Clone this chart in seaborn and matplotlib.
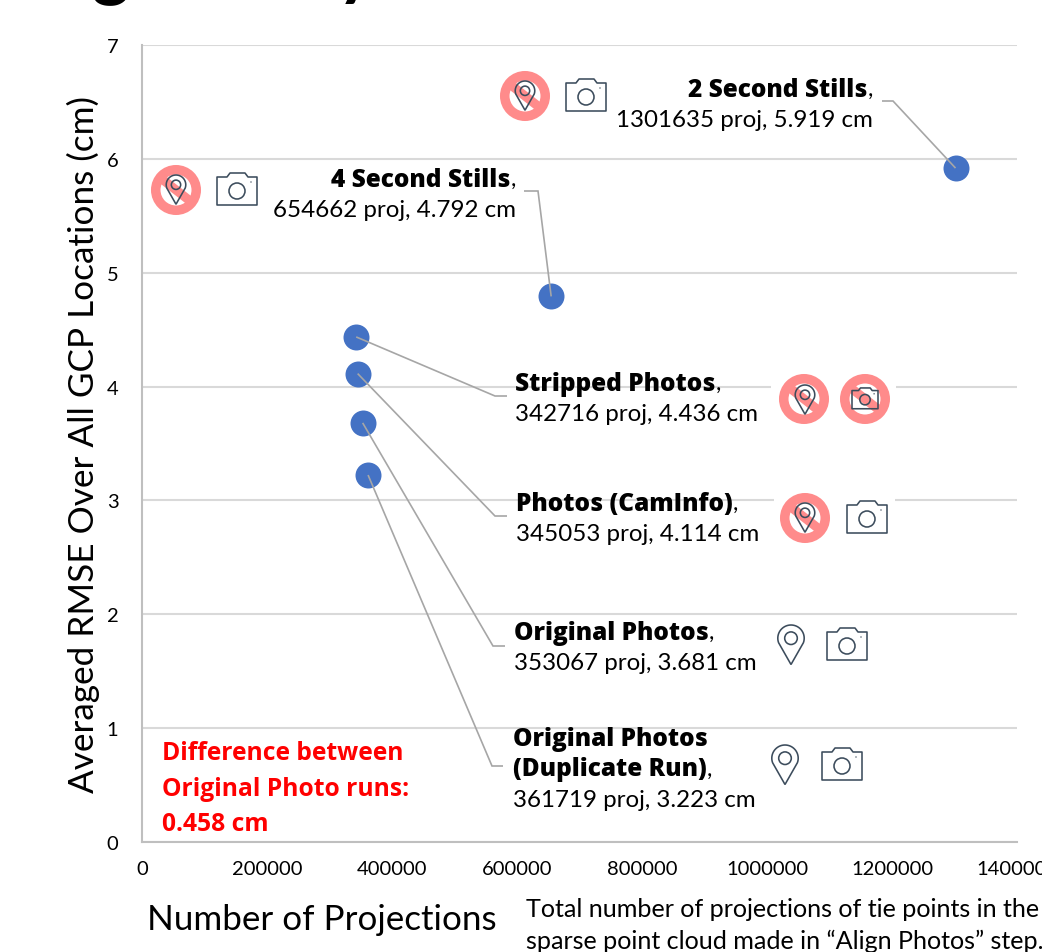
import numpy as np
import pandas as pd
import matplotlib
matplotlib.use("Agg")
import matplotlib.pyplot as plt
from matplotlib.path import Path
from matplotlib.patches import Circle, PathPatch, Polygon, Rectangle
from matplotlib.ticker import StrMethodFormatter
from matplotlib.transforms import Affine2D
import seaborn as sns

# Alignment runs: projections against averaged RMSE
run_names = ["2 Second Stills", "4 Second Stills", "Stripped Photos", "Photos (CamInfo)",
             "Original Photos", "Original Photos\n(Duplicate Run)"]
projections = [1301635, 654662, 342716, 345053, 353067, 361719]
rmse_cm = [5.919, 4.792, 4.436, 4.114, 3.681, 3.223]
x_ticks = [0, 200000, 400000, 600000, 800000, 1000000, 1200000, 1400000]
y_ticks = [0, 1, 2, 3, 4, 5, 6, 7]

W, H = 1042, 953
BLUE = "#4472C4"
GRID = "#D9D9D9"
SPINE = "#BFBFBF"
LEADER = "#A6A6A6"
NO_RED = "#FF8B8B"
ICON = "#3C4C5C"
TEXT = "#000000"

sns.set_theme(style="whitegrid")
plt.rcParams["font.family"] = ["Lato", "DejaVu Sans"]

fig = plt.figure(figsize=(W / 100, H / 100), dpi=100, facecolor="white")
ax = fig.add_axes([142 / W, (H - 843) / H, (1017 - 142) / W, (843 - 46) / H])

data = pd.DataFrame({"run": run_names, "projections": projections, "rmse": rmse_cm})
sns.scatterplot(data=data, x="projections", y="rmse", color=BLUE, s=350, linewidth=0,
                ax=ax, clip_on=False, zorder=3)

ax.set_xlim(0, 1400000)
ax.set_ylim(0, 7)
ax.set_xticks(x_ticks)
ax.set_yticks(y_ticks)
ax.xaxis.set_major_formatter(StrMethodFormatter("{x:.0f}"))
ax.set_xlabel("")
ax.set_ylabel("")
ax.grid(axis="y", color=GRID, linewidth=1.5)
ax.grid(axis="x", visible=False)
ax.set_axisbelow(True)
for side in ("top", "right"):
    ax.spines[side].set_visible(False)
for side in ("left", "bottom"):
    ax.spines[side].set_visible(True)
    ax.spines[side].set_color(SPINE)
    ax.spines[side].set_linewidth(1.5)
ax.tick_params(axis="x", length=0, pad=13, labelsize=14.5, labelcolor=TEXT)
ax.tick_params(axis="y", length=0, pad=17, labelsize=14.5, labelcolor=TEXT)

# Annotation layer is laid out in canvas pixels measured from the top left
px = Affine2D().scale(1, -1).translate(0, H)


def add(artist, z=6):
    artist.set_transform(px)
    artist.set_zorder(z)
    fig.add_artist(artist)


def pin(cx, top, k=1.0):
    r, tip = 13.2 * k, 39.5 * k
    cy = top + r
    t = np.radians(np.linspace(200, -20, 40))
    xs = cx + r * np.cos(t)
    ys = cy - r * np.sin(t)
    pts = np.column_stack([np.r_[xs, cx], np.r_[ys, top + tip]])
    add(Polygon(pts, closed=True, fill=False, ec=ICON, lw=1.15, joinstyle="miter"), 8)
    add(Circle((cx, cy), 6.3 * k, fill=False, ec=ICON, lw=1.15), 8)


def camera(cx, cy, k=1.0):
    w, h = 40 * k, 28 * k
    left, right, top, bot = cx - w / 2, cx + w / 2, cy - h / 2 + k, cy + h / 2 + k
    outline = [(left, top), (cx - 10 * k, top), (cx - 7 * k, top - 4 * k), (cx + 8 * k, top - 4 * k),
               (cx + 11 * k, top), (right, top), (right, bot), (left, bot)]
    add(Polygon(outline, closed=True, fill=False, ec=ICON, lw=1.15, joinstyle="round"), 8)
    add(Circle((cx, cy + k), 8 * k, fill=False, ec=ICON, lw=1.15), 8)
    add(Circle((cx + 14 * k, cy - 8 * k), 0.7, fc=ICON, ec="none"), 8)


def no_sign(cx, cy):
    r_out, r_in = 25, 15.5
    add(Circle((cx, cy), (r_out + r_in) / 2, fill=False, ec=NO_RED, lw=(r_out - r_in) * 0.72), 7)
    d = np.array([np.cos(np.radians(38)), np.sin(np.radians(38))])
    a = np.array([cx, cy]) - d * r_in * 1.05
    b = np.array([cx, cy]) + d * r_in * 1.05
    verts = [tuple(a), tuple(b)]
    add(PathPatch(Path(verts, [Path.MOVETO, Path.LINETO]), ec=NO_RED, lw=6.6, fill=False, capstyle="butt"), 7)


# White panels interrupt the gridlines behind the crossed-out icons
add(Rectangle((771, 374), 125, 54, fc="white", ec="none"), 6)
add(Rectangle((774, 492), 121, 54, fc="white", ec="none"), 6)

SMALL_PIN = 0.74
no_sign(525, 97); pin(525, 82, SMALL_PIN); camera(586, 97)
no_sign(176, 191); pin(176, 176, SMALL_PIN); camera(237, 191)
no_sign(804, 400); pin(805, 386, SMALL_PIN); no_sign(865, 400); camera(865, 400, 0.65)
no_sign(805, 519); pin(805, 504, SMALL_PIN); camera(867, 519)
pin(791, 626); camera(847, 646)
pin(785, 746); camera(842, 766)

# Leader lines run from each label's elbow to the centre of its point
elbows = [[(882, 102), (893, 102)], [(524, 192), (538, 192)], [(507, 397), (495, 397)],
          [(507, 517), (495, 517)], [(505, 647), (493, 647)], [(503, 767), (492, 767)]]
fig.canvas.draw()
for (xv, yv), elbow in zip(zip(projections, rmse_cm), elbows):
    dx, dy = ax.transData.transform((xv, yv))
    pts = elbow + [(dx, H - dy)]
    add(PathPatch(Path(pts), fill=False, ec=LEADER, lw=1.2), 5)

renderer = fig.canvas.get_renderer()
LABEL_SIZE = 17.4
BOLD_SIZE = 17.6


def label(x, y, title, detail, align="left"):
    """Bold run name followed by a regular comma, then the values on the line below."""
    lines = title.split("\n")
    line_h = 30.5
    bold = dict(transform=px, family="Open Sans", weight="extra bold", fontsize=BOLD_SIZE,
                color=TEXT, va="baseline", zorder=9)
    plain = dict(transform=px, fontsize=LABEL_SIZE, color=TEXT, va="baseline", zorder=9)
    for i, line in enumerate(lines):
        yy = y + i * line_h
        last = i == len(lines) - 1
        if align == "left":
            t = fig.text(x, yy, line, ha="left", **bold)
            if last:
                e = t.get_window_extent(renderer)
                fig.text(e.x1 + 0.5, yy, ",", ha="left", **plain)
        else:
            c = fig.text(x, yy, ",", ha="right", **plain)
            e = c.get_window_extent(renderer)
            fig.text(e.x0 - 0.5, yy, line, ha="right", **bold)
    fig.text(x, y + len(lines) * line_h, detail, ha=align, **plain)


def detail_text(i):
    return f"{projections[i]} proj, {rmse_cm[i]:.3f} cm"


label(873, 97, run_names[0], detail_text(0), "right")
label(516, 187, run_names[1], detail_text(1), "right")
label(515, 391, run_names[2], detail_text(2))
label(516, 511, run_names[3], detail_text(3))
label(514, 640, run_names[4], detail_text(4))
label(513, 746, run_names[5], detail_text(5))

# Red note on the spread between the two original runs
for yy, line in zip([760, 796, 831], ["Difference between", "Original Photo runs:", "0.458 cm"]):
    fig.text(162, yy, line, transform=px, family="Open Sans", weight="bold", fontsize=17.7,
             color="#FF0000", va="baseline", ha="left", zorder=9)

# Axis titles and the explanatory note under the x axis
fig.text(83, 445, "Averaged RMSE Over All GCP Locations (cm)", transform=px, rotation=90,
         fontsize=25.3, color=TEXT, ha="center", va="center")
fig.text(147, 930, "Number of Projections", transform=px, fontsize=25.2, color=TEXT,
         ha="left", va="baseline")
fig.text(526, 917, "Total number of projections of tie points in the", transform=px,
         fontsize=18.1, color=TEXT, ha="left", va="baseline")
fig.text(526, 949, "sparse point cloud made in \u201cAlign Photos\u201d step.", transform=px,
         fontsize=18.1, color=TEXT, ha="left", va="baseline")

# Heading sits above the canvas edge, so only its descenders reach the top of the page
fig.text(91, -9, "g", transform=px, fontsize=52, weight="bold", color=TEXT, va="baseline")
fig.text(337, -9, "y", transform=px, fontsize=52, weight="bold", color=TEXT, va="baseline")

fig.savefig("out.png", dpi=100)
